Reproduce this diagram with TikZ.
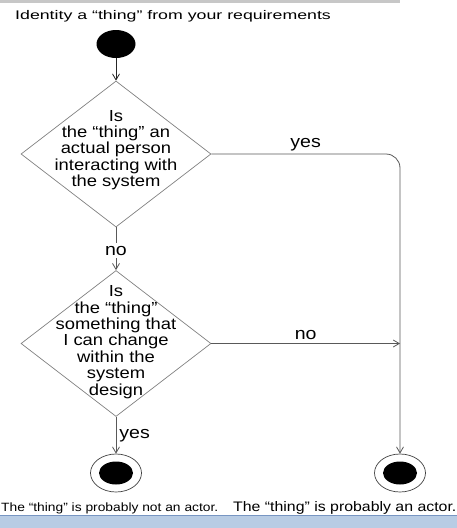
\documentclass[tikz,border=0pt]{standalone}
\usepackage{fontspec}
\setmainfont{Liberation Sans}[FakeStretch=1.15]
\newfontfamily\titlefont{Liberation Sans}[FakeStretch=1.42]
\usetikzlibrary{shapes.geometric, arrows.meta}
\definecolor{barblue}{RGB}{184,204,228}
\definecolor{barline}{RGB}{120,150,195}
\begin{document}
\begin{tikzpicture}[
        x=1pt, y=-1pt,
        startdot/.style={ellipse, fill=black, minimum width=39pt, minimum height=28pt, inner sep=0pt},
        enddot/.style={ellipse, draw=black!75, line width=0.7pt, minimum width=51pt, minimum height=38pt, inner sep=0pt,
            path picture={\fill[black] (path picture bounding box.center) ellipse [x radius=17pt, y radius=11.5pt];}},
        decision/.style={diamond, draw=black!50, line width=0.7pt, minimum width=190pt, minimum height=146pt, inner sep=0pt},
        question/.style={align=center, font=\fontsize{16}{16.4}\selectfont},
        flow/.style={draw=black!65, line width=0.8pt, -{Straight Barb[length=6pt, width=7pt]}},
        guard/.style={font=\fontsize{17}{18}\selectfont, inner sep=3pt},
        caption/.style={anchor=base west, inner sep=0pt}
    ]
        \useasboundingbox (0,0) rectangle (456,528);

        % bars at top and bottom
        \fill[black!22] (0,0) rectangle (400,2.5);
        \filldraw[fill=barblue, draw=barline, line width=0.8pt] (-1,515.5) rectangle (457,529);

        \node[caption, font=\titlefont\fontsize{12.5}{14}\selectfont] (title) at (15,19) {Identity a “thing” from your requirements};

        % activity nodes
        \node[startdot] (start) at (116,44) {};
        \node[decision] (q1) at (116,154) {};
        \node[question] (q1text) at (116,150) {Is\\the “thing” an\\actual person\\interacting with\\the system};
        \node[decision] (q2) at (116,343.5) {};
        \node[question] (q2text) at (116,342) {Is\\the “thing”\\something that\\I can change\\within the\\system\\design};
        \node[enddot] (end1) at (116,473) {};
        \node[enddot] (end2) at (400,473) {};
        \coordinate (join) at (q2.east -| end2.north);

        \node[caption, font=\fontsize{12}{14}\selectfont] (notactor) at (1,511) {The “thing” is probably not an actor.};
        \node[caption, font=\fontsize{13.8}{15}\selectfont] (actor) at (233,511) {The “thing” is probably an actor.};

        % connectors
        \draw[flow, draw=black!85] (start) -- (q1.north);
        \draw[flow] (q1.south) -- node[guard, fill=white, yshift=-2pt] {no} (q2.north);
        \draw[flow, rounded corners=14pt] (q1.east) -| node[guard, pos=0.25, above] {yes} (end2.north);
        \draw[flow] (q2.east) -- node[guard, above] {no} (join);
        \draw[flow] (q2.south) -- node[guard, right] {yes} (end1.north);
    \end{tikzpicture}
\end{document}
